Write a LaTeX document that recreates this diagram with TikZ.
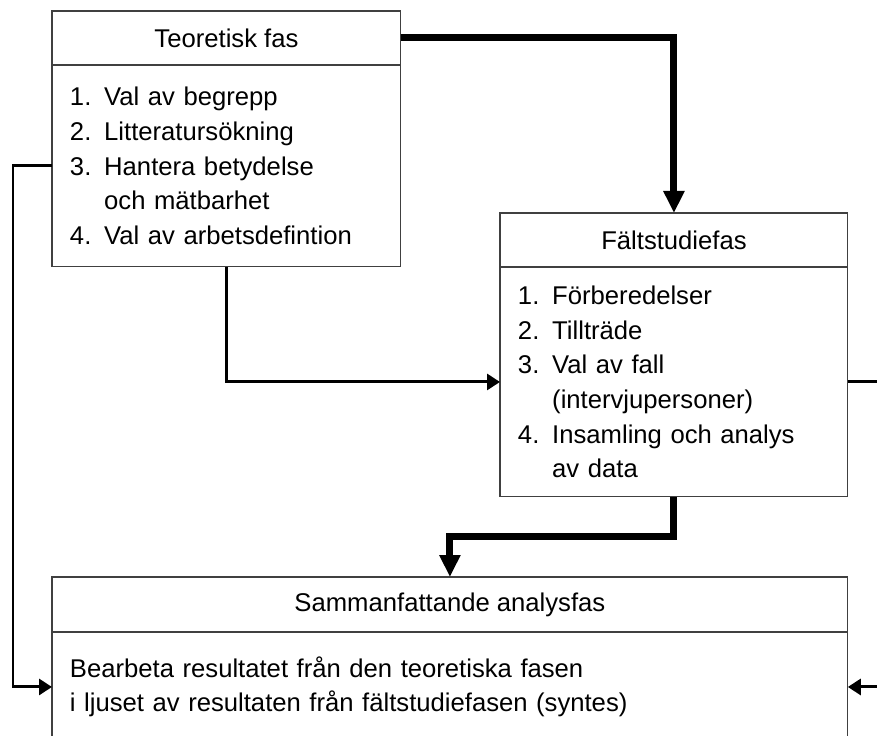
\documentclass[tikz,border=0pt]{standalone}
\usepackage{fontspec}
\setmainfont{Liberation Sans}
\usetikzlibrary{positioning,arrows.meta}

\tikzset{
  phasehead/.style={draw=black!75, line width=0.6pt, inner sep=0pt, outer sep=0pt,
    minimum width=#1, minimum height=1.08cm, align=center},
  phasebody/.style={draw=black!75, line width=0.6pt, inner xsep=0.36cm, inner ysep=0pt,
    outer sep=0pt, text width=#1, align=left},
  thickflow/.style={line width=0.14cm, -{Triangle[length=0.44cm,width=0.4cm]}},
  thinflow/.style={line width=0.06cm, -{Triangle[length=0.26cm,width=0.32cm]}}
}

\begin{document}
\begin{tikzpicture}[x=0.02cm, y=-0.02cm, font=\fontsize{14.6}{19.7}\selectfont]
\useasboundingbox (0,0) rectangle (877,736);

% theory phase
\node[phasehead=6.98cm, anchor=north west] (tHead) at (52,11) {Teoretisk fas};
\node[phasebody=6.26cm, minimum height=4.04cm, below=0pt of tHead] (tBody)
  {1. Val av begrepp\\
   2. Litteratursökning\\
   3. Hantera betydelse\\
   \phantom{3. }och mätbarhet\\
   4. Val av arbetsdefintion};

% field study phase
\node[phasehead=6.96cm, anchor=north west] (fHead) at (500,213) {Fältstudiefas};
\node[phasebody=6.24cm, minimum height=4.6cm, below=0pt of fHead] (fBody)
  {1. Förberedelser\\
   2. Tillträde\\
   3. Val av fall\\
   \phantom{3. }(intervjupersoner)\\
   4. Insamling och analys\\
   \phantom{4. }av data};

% summary phase
\node[phasehead=15.92cm, minimum height=1.1cm, anchor=north west] (sHead) at (52,577) {Sammanfattande analysfas};
\node[phasebody=15.2cm, minimum height=2.2cm, below=0pt of sHead] (sBody)
  {Bearbeta resultatet från den teoretiska fasen\\
   i ljuset av resultaten från fältstudiefasen (syntes)};

% connectors
\draw[thickflow] (tHead.east) -| (fHead.north);
\draw[thinflow] (tBody.south) |- (fBody.west);
\draw[thickflow] (fBody.south) -- ++(0,40) -| (sHead.north);
\draw[thinflow] (tBody.west) -- ++(-39,0) |- (sBody.west);
\draw[thinflow] (fBody.east) -- ++(34,0) |- (sBody.east);

\end{tikzpicture}
\end{document}
